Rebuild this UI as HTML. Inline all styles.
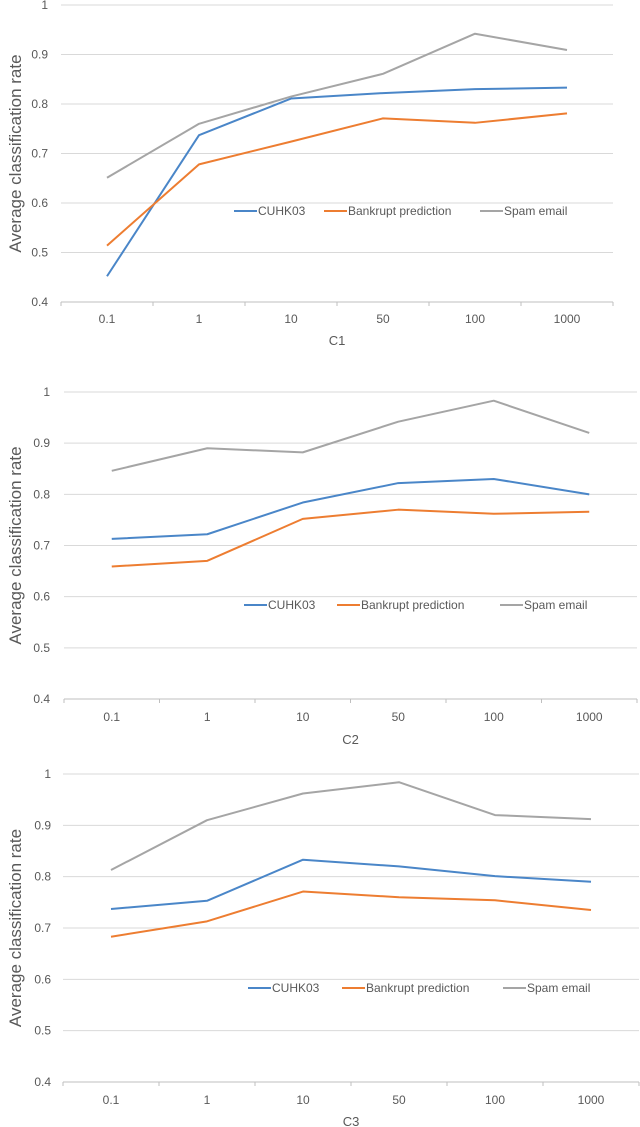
<!DOCTYPE html>
<html><head><meta charset="utf-8">
<style>
html,body{margin:0;padding:0;background:#fff;}
svg{display:block;font-family:"Liberation Sans",sans-serif;}
</style></head>
<body>
<svg id="chart" width="640" height="1127"></svg>
<script>
const categories = ["0.1","1","10","50","100","1000"];
const yTicks = [0.4,0.5,0.6,0.7,0.8,0.9,1];
const yTickLabels = ["0.4","0.5","0.6","0.7","0.8","0.9","1"];
const seriesNames = ["CUHK03","Bankrupt prediction","Spam email"];
const c1Cuhk = [0.452,0.737,0.811,0.822,0.830,0.833];
const c1Bank = [0.514,0.678,0.724,0.771,0.762,0.781];
const c1Spam = [0.651,0.760,0.815,0.861,0.942,0.909];
const c2Cuhk = [0.713,0.722,0.784,0.822,0.830,0.800];
const c2Bank = [0.659,0.670,0.752,0.770,0.762,0.766];
const c2Spam = [0.846,0.890,0.882,0.942,0.983,0.920];
const c3Cuhk = [0.737,0.753,0.833,0.820,0.801,0.790];
const c3Bank = [0.683,0.713,0.771,0.760,0.754,0.735];
const c3Spam = [0.813,0.910,0.962,0.984,0.920,0.912];

const colors = ["#4a86c8","#ed7d31","#a5a5a5"];
const NS = "http://www.w3.org/2000/svg";
const svg = document.getElementById("chart");
function mk(tag, attrs, parent, text){
  const e = document.createElementNS(NS, tag);
  for (const k in attrs) e.setAttribute(k, attrs[k]);
  if (text !== undefined) e.textContent = text;
  parent.appendChild(e);
  return e;
}
const panels = [
  {name:"C1", data:[c1Cuhk,c1Bank,c1Spam], left:61, right:613, top:5, bottom:302, tickY:323, titleY:345, legY:211, leg:[234,324,480], ylx:48},
  {name:"C2", data:[c2Cuhk,c2Bank,c2Spam], left:64, right:637, top:392, bottom:699, tickY:721, titleY:744, legY:605, leg:[244,337,500], ylx:50},
  {name:"C3", data:[c3Cuhk,c3Bank,c3Spam], left:63, right:639, top:774, bottom:1082, tickY:1104, titleY:1126, legY:988, leg:[248,342,503], ylx:51}
];
panels.forEach((p, pi) => {
  const g = mk("g", {}, svg);
  
  
  const y = v => p.bottom - (v - 0.4) / 0.6 * (p.bottom - p.top);
  const bw = (p.right - p.left) / categories.length;
  const x = i => p.left + bw * (i + 0.5);
  yTicks.forEach((t, i) => {
    const gl = mk("line", {x1:p.left, x2:p.right, y1:y(t), y2:y(t), stroke: i===0 ? "#bfbfbf" : "#d9d9d9", "stroke-width":1}, g);
    
    
    const tl = mk("text", {x:p.ylx, y:y(t)+4, "text-anchor":"end", "font-size":12, fill:"#595959"}, g, yTickLabels[i]);
    
    
  });
  for (let i = 0; i <= categories.length; i++) {
    const tk = mk("line", {x1:p.left+bw*i, x2:p.left+bw*i, y1:p.bottom, y2:p.bottom+4, stroke:"#bfbfbf"}, g);
    
    
  }
  categories.forEach((c, i) => {
    const xl = mk("text", {x:x(i), y:p.tickY, "text-anchor":"middle", "font-size":12, fill:"#595959"}, g, c);
    
    
  });
  const xt = mk("text", {x:(p.left+p.right)/2, y:p.titleY, "text-anchor":"middle", "font-size":13, fill:"#595959"}, g, p.name);
  
  
  const cy = (p.top + p.bottom) / 2;
  const yt = mk("text", {x:0, y:0, transform:`translate(21,${cy}) rotate(-90)`, "text-anchor":"middle", "font-size":17, fill:"#595959"}, g, "Average classification rate");
  
  
  p.data.forEach((s, si) => {
    const pts = s.map((v, i) => x(i) + "," + y(v)).join(" ");
    const pl = mk("polyline", {points:pts, fill:"none", stroke:colors[si], "stroke-width":2, "stroke-linejoin":"round"}, g);
    
    
  });
  seriesNames.forEach((n, si) => {
    const lx = p.leg[si];
    const le = mk("g", {}, g);
    
    
    mk("line", {x1:lx, x2:lx+23, y1:p.legY, y2:p.legY, stroke:colors[si], "stroke-width":2}, le);
    mk("text", {x:lx+24, y:p.legY+4, "font-size":12, fill:"#595959"}, le, n);
  });
});
</script>
</body></html>
